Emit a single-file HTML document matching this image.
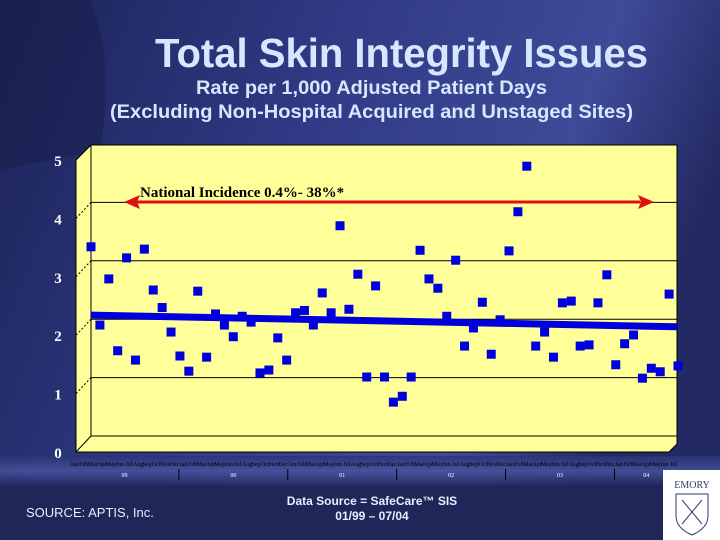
<!DOCTYPE html>
<html><head><meta charset="utf-8"><style>
html,body{margin:0;padding:0;width:720px;height:540px;overflow:hidden;background:#2a3272;}
svg{display:block}
</style></head><body>
<svg width="720" height="540" viewBox="0 0 720 540" xmlns="http://www.w3.org/2000/svg">
<defs>
<linearGradient id="bg" x1="0" y1="0" x2="1" y2="0.3">
<stop offset="0" stop-color="#1c2357"/><stop offset="0.45" stop-color="#303a85"/><stop offset="0.8" stop-color="#3f4a98"/><stop offset="1" stop-color="#232a63"/>
</linearGradient>
<linearGradient id="band" x1="0" y1="0" x2="0" y2="1">
<stop offset="0" stop-color="#2a3374"/><stop offset="0.5" stop-color="#4a55a0"/><stop offset="1" stop-color="#1e2558"/>
</linearGradient>
</defs>
<rect width="720" height="540" fill="url(#bg)"/>
<path d="M0 0 L90 0 Q115 60 100 150 L0 170 Z" fill="#161c48" opacity="0.45"/>
<rect x="0" y="456" width="720" height="30" fill="url(#band)" opacity="0.8"/>
<rect x="0" y="486" width="720" height="54" fill="#1f2658"/>
<text x="155" y="67" textLength="493" lengthAdjust="spacingAndGlyphs" font-family="Liberation Sans, sans-serif" font-weight="bold" font-size="41" fill="#d6e8ff">Total Skin Integrity Issues</text>
<text x="196" y="94" textLength="351" lengthAdjust="spacingAndGlyphs" font-family="Liberation Sans, sans-serif" font-weight="bold" font-size="19" fill="#d6e8ff">Rate per 1,000 Adjusted Patient Days</text>
<text x="110" y="118" textLength="523" lengthAdjust="spacingAndGlyphs" font-family="Liberation Sans, sans-serif" font-weight="bold" font-size="19" fill="#d6e8ff">(Excluding Non-Hospital Acquired and Unstaged Sites)</text>

<g id="plot">
<polygon points="91,145 677,145 677,444 669,452 76,452 76,160" fill="#ffff99" stroke="#000" stroke-width="1"/>
<polyline points="91,145 91,436 677,436" fill="none" stroke="#000" stroke-width="1"/>
<line x1="91" y1="436" x2="76" y2="452" stroke="#000" stroke-width="1"/>
</g>
<g id="grid"></g>
<g id="yticks"></g>
<g id="xticks"></g>
<g id="trend"></g>
<g id="points"></g>
<g>
<line x1="136" y1="202" x2="640" y2="202" stroke="#e01010" stroke-width="3"/>
<polygon points="124,202 140,195 137,202 140,209" fill="#e01010"/>
<polygon points="654,202 638,195 641,202 638,209" fill="#e01010"/>
<text x="140" y="197" font-family="Liberation Serif, serif" font-weight="bold" font-size="15" fill="#000">National Incidence 0.4%- 38%*</text>
</g>
<text x="26" y="517" font-family="Liberation Sans, sans-serif" font-size="13" fill="#e8eeff">SOURCE: APTIS, Inc.</text>
<text x="372" y="505" font-family="Liberation Sans, sans-serif" font-weight="bold" font-size="12" fill="#e8eeff" text-anchor="middle">Data Source = SafeCare™ SIS</text>
<text x="372" y="520" font-family="Liberation Sans, sans-serif" font-weight="bold" font-size="12" fill="#e8eeff" text-anchor="middle">01/99 – 07/04</text>
<g>
<rect x="663" y="470" width="57" height="70" fill="#fff"/>
<text x="692" y="488" font-family="Liberation Serif, serif" font-size="10" fill="#333a6a" text-anchor="middle">EMORY</text>
<path d="M676 494 L708 494 L708 516 Q708 528 692 535 Q676 528 676 516 Z" fill="none" stroke="#333a6a" stroke-width="1"/>
<line x1="682" y1="500" x2="702" y2="524" stroke="#333a6a"/><line x1="702" y1="500" x2="682" y2="524" stroke="#333a6a"/>
</g>
</svg>
<script>
const months = ["Jan","Feb","Mar","Apr","May","Jun","Jul","Aug","Sep","Oct","Nov","Dec"];
const years = ["99","00","01","02","03","04"];
const yTicks = [0,1,2,3,4,5];
const rates = [3.24,1.90,2.69,1.46,3.05,1.30,3.20,2.50,2.20,1.78,1.37,1.11,2.48,1.35,2.09,1.90,1.70,2.05,1.95,1.08,1.13,1.68,1.30,2.11,2.15,1.90,2.45,2.11,3.60,2.17,2.77,1.01,2.57,1.01,0.58,0.68,1.01,3.18,2.69,2.53,2.05,3.01,1.54,1.85,2.29,1.40,1.99,3.17,3.84,4.62,1.54,1.78,1.35,2.28,2.31,1.54,1.56,2.28,2.76,1.22,1.58,1.73,0.99,1.16,1.10,2.43,1.20];
const trendStart = [2.07];
const trendEnd = [1.87];

const NS="http://www.w3.org/2000/svg";
const x0=91, x1=678, yBase=436, yTop=144, yMax=5;
const n=rates.length;
function xPos(i){return x0+(x1-x0)*i/(n-1);}
function yPos(v){return yBase-(yBase-yTop)*v/yMax;}
function mk(tag,attrs,parent){const e=document.createElementNS(NS,tag);for(const k in attrs)e.setAttribute(k,attrs[k]);parent.appendChild(e);return e;}

const grid=document.getElementById('grid');
const yt=document.getElementById('yticks');
yTicks.forEach(v=>{
  if(v>0&&v<yMax){
    const g=mk('line',{x1:x0,x2:677,y1:yPos(v),y2:yPos(v),stroke:'#000','stroke-width':1},grid);
    
    
    const d=mk('line',{x1:76,x2:x0,y1:yPos(v)+16,y2:yPos(v),stroke:'#000','stroke-width':1,'stroke-dasharray':'2,2'},grid);
    
    
  }
  const t=mk('text',{x:58,y:yPos(v)+16+6,'font-family':'Liberation Serif, serif','font-weight':'bold','font-size':15,fill:'#fff','text-anchor':'middle'},yt);
  t.textContent=v;
  
  
});

const xt=document.getElementById('xticks');
const mx0=70, mx1=678;
for(let i=0;i<n;i++){
  const t=mk('text',{x:mx0+(mx1-mx0)*(i+0.5)/n,y:466,'font-family':'Liberation Serif, serif','font-size':6,fill:'#000','text-anchor':'middle'},xt);
  t.textContent=months[i%12];
  
  
}
years.forEach((y,k)=>{
  const start=k*12, end=Math.min(n,(k+1)*12);
  const cx=mx0+(mx1-mx0)*((start+end)/2)/n;
  const t=mk('text',{x:cx,y:477,'font-family':'Liberation Serif, serif','font-size':6,fill:'#fff','text-anchor':'middle'},xt);
  t.textContent=y;
  
  
  if(k>0){
    const l=mk('line',{x1:mx0+(mx1-mx0)*start/n,x2:mx0+(mx1-mx0)*start/n,y1:469,y2:480,stroke:'#000','stroke-width':1},xt);
    
    
  }
});

const tr=document.getElementById('trend');
const tl=mk('line',{x1:x0,y1:yPos(trendStart[0]),x2:677,y2:yPos(trendEnd[0]),stroke:'#0000dd','stroke-width':7},tr);



const pts=document.getElementById('points');
rates.forEach((v,i)=>{
  const r=mk('rect',{x:xPos(i)-4.5,y:yPos(v)-4.5,width:9,height:9,fill:'#0000dd'},pts);
  
  
});
</script>
</body></html>
